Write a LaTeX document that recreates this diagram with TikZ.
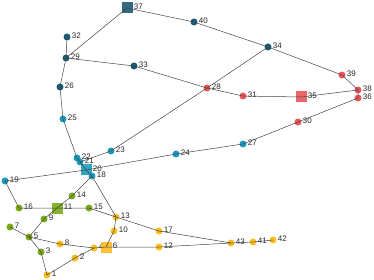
\documentclass[tikz,border=0pt]{standalone}
\usepackage{fontspec}
\setmainfont{Liberation Sans}
\definecolor{cdark}{HTML}{1D5A73}
\definecolor{cteal}{HTML}{1A9BBD}
\definecolor{cred}{HTML}{EC5559}
\definecolor{cgreen}{HTML}{7AAA16}
\definecolor{corange}{HTML}{FBBC1E}
\definecolor{cedge}{HTML}{444444}
\tikzset{
  dot/.style={circle, fill=#1, inner sep=0pt, minimum size=7pt},
  sq/.style={rectangle, fill=#1, fill opacity=0.9, inner sep=0pt, minimum size=11pt},
  lbl/.style={font=\fontsize{8}{9}\selectfont, text=black!85, inner sep=0.5pt, anchor=west, yshift=1.5pt, label distance=0.5pt},
  edge/.style={draw=cedge, line width=0.5pt}
}
\begin{document}
\begin{tikzpicture}[x=1pt,y=-1pt]
\useasboundingbox (0,0) rectangle (374,280);
% dark teal
\node[sq=cdark, label={[lbl]0:37}] (n37) at (127,8) {};
\node[dot=cdark, label={[lbl]0:40}] (n40) at (194,22) {};
\node[dot=cdark, label={[lbl]0:34}] (n34) at (268,47) {};
\node[dot=cdark, label={[lbl]0:32}] (n32) at (67,37) {};
\node[dot=cdark, label={[lbl]0:29}] (n29) at (66,58) {};
\node[dot=cdark, label={[lbl]0:33}] (n33) at (134,66) {};
\node[dot=cdark, label={[lbl]0:26}] (n26) at (60,87) {};
% teal
\node[dot=cteal, label={[lbl]0:25}] (n25) at (63,119) {};
\node[dot=cteal, label={[lbl]0:22}] (n22) at (77,158) {};
\node[dot=cteal, label={[lbl]0:21}] (n21) at (80,162) {};
\node[sq=cteal, label={[lbl]0:20}] (n20) at (86,170) {};
\node[dot=cteal, label={[lbl]0:18}] (n18) at (92,176) {};
\node[dot=cteal, label={[lbl]0:23}] (n23) at (111,151) {};
\node[dot=cteal, label={[lbl]0:24}] (n24) at (176,154) {};
\node[dot=cteal, label={[lbl]0:27}] (n27) at (243,144) {};
\node[dot=cteal, label={[lbl]0:19}] (n19) at (5,181) {};
% red
\node[dot=cred, label={[lbl]0:28}] (n28) at (207,88) {};
\node[dot=cred, label={[lbl]0:31}] (n31) at (243,96) {};
\node[sq=cred, label={[lbl]0:35}] (n35) at (301,97) {};
\node[dot=cred, label={[lbl]0:39}] (n39) at (342,75) {};
\node[dot=cred, label={[lbl]0:38}] (n38) at (358,90) {};
\node[dot=cred, label={[lbl]0:36}] (n36) at (358,98) {};
\node[dot=cred, label={[lbl]0:30}] (n30) at (298,122) {};
% green
\node[dot=cgreen, label={[lbl]0:16}] (n16) at (19,208) {};
\node[sq=cgreen, label={[lbl]0:11}] (n11) at (57,208) {};
\node[dot=cgreen, label={[lbl]0:14}] (n14) at (72,196) {};
\node[dot=cgreen, label={[lbl]0:15}] (n15) at (89,208) {};
\node[dot=cgreen, label={[lbl]0:9}] (n9) at (44,219) {};
\node[dot=cgreen, label={[lbl]0:7}] (n7) at (10,227) {};
\node[dot=cgreen, label={[lbl]0:5}] (n5) at (29,237) {};
\node[dot=cgreen, label={[lbl]0:3}] (n3) at (41,252) {};
% orange
\node[dot=corange, label={[lbl]0:13}] (n13) at (116,217) {};
\node[dot=corange, label={[lbl]0:10}] (n10) at (114,231) {};
\node[dot=corange, label={[lbl]0:17}] (n17) at (159,231) {};
\node[dot=corange, label={[lbl]0:8}] (n8) at (60,244) {};
\node[dot=corange, label={[lbl]0:4}] (n4) at (94,248) {};
\node[sq=corange, label={[lbl]0:6}] (n6) at (106,247) {};
\node[dot=corange, label={[lbl]0:12}] (n12) at (159,247) {};
\node[dot=corange, label={[lbl]0:2}] (n2) at (75,258) {};
\node[dot=corange, label={[lbl]0:1}] (n1) at (47,275) {};
\node[dot=corange, label={[lbl]0:43}] (n43) at (231,243) {};
\node[dot=corange, label={[lbl]0:41}] (n41) at (253,242) {};
\node[dot=corange, label={[lbl]0:42}] (n42) at (273,240) {};
% edges
\draw[edge] (n37.center) -- (n29.center);
\draw[edge] (n37.center) -- (n40.center) -- (n34.center) -- (n39.center) -- (n38.center) -- (n36.center);
\draw[edge] (n38.center) -- (n35.center) -- (n31.center) -- (n28.center) -- (n33.center) -- (n29.center);
\draw[edge] (n29.center) -- (n32.center);
\draw[edge] (n29.center) -- (n26.center) -- (n25.center) -- (n22.center) -- (n21.center) -- (n20.center) -- (n18.center) -- (n13.center);
\draw[edge] (n34.center) -- (n28.center) -- (n23.center) -- (n21.center);
\draw[edge] (n36.center) -- (n30.center) -- (n27.center) -- (n24.center) -- (n20.center) -- (n19.center) -- (n16.center) -- (n11.center) -- (n15.center) -- (n13.center) -- (n17.center) -- (n43.center) -- (n41.center) -- (n42.center);
\draw[edge] (n18.center) -- (n14.center) -- (n11.center) -- (n9.center) -- (n5.center) -- (n7.center);
\draw[edge] (n5.center) -- (n3.center) -- (n1.center) -- (n2.center) -- (n4.center) -- (n6.center) -- (n12.center) -- (n43.center);
\draw[edge] (n5.center) -- (n8.center) -- (n4.center);
\draw[edge] (n6.center) -- (n10.center) -- (n13.center);
\end{tikzpicture}
\end{document}
